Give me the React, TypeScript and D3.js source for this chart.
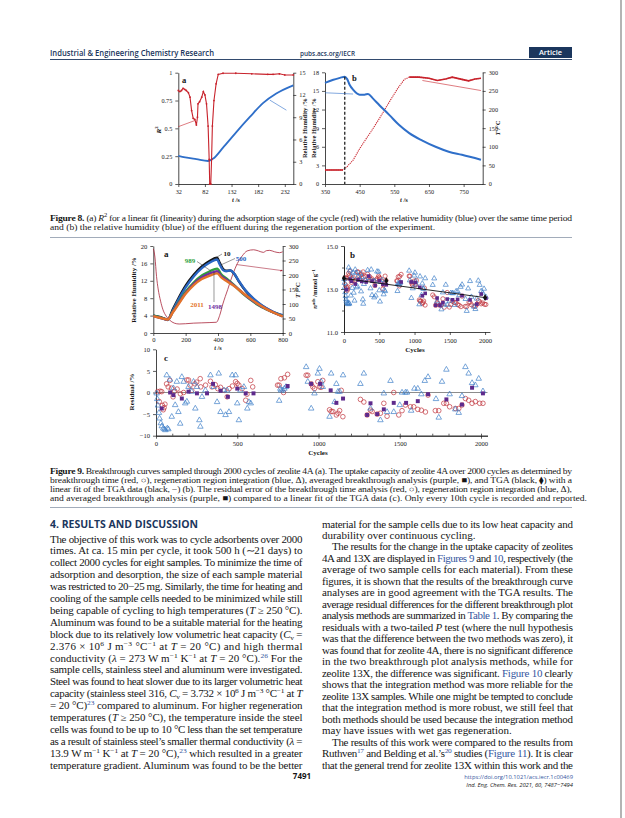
import { useEffect, useRef } from 'react';
import * as d3 from 'd3';

// ---------- Figure 8 data ----------
const fig8aR2: [number, number][] = [
  [32, 0.84], [35, 0.83], [38, 0.84], [41, 0.86], [44, 0.85], [47, 0.84], [51, 0.82], [54, 0.78],
  [57, 0.66], [60, 0.59], [63, 0.58], [66, 0.53], [68, 0.6], [69, 0.72], [72, 0.74], [76, 0.78],
  [79, 0.83], [82, 0.8], [85, 0.72], [88, 0.52], [90, 0.22], [91, 0.0], [93, 0.0], [94.5, 0.22],
  [96, 0.52], [99, 0.75], [103, 0.9], [107, 0.985], [116, 0.995], [140, 0.995], [170, 0.99],
  [200, 0.985], [210, 0.985], [222, 0.99], [232, 0.98], [248, 0.98]
];
const fig8aRH: [number, number][] = [
  [32, 3.8], [45, 3.6], [66, 3.35], [88, 3.1], [98, 3.45], [116, 4.9], [141, 7.0], [166, 9.0],
  [191, 10.9], [216, 12.2], [248, 13.3]
];
const fig8bRH: [number, number][] = [
  [350, 16.3], [374, 16.8], [393, 17.1], [407, 17.3], [414, 16.9], [421, 16.0], [431, 15.2],
  [450, 14.4], [464, 14.4], [474, 14.5], [488, 13.8], [507, 12.7], [536, 11.1], [564, 9.5],
  [593, 8.2], [631, 7.0], [669, 6.0], [707, 5.2], [745, 4.7], [800, 3.9]
];
const fig8bT: [number, number][] = [
  [350, 37.6], [402, 37.6], [412, 45], [431, 64], [450, 95], [469, 122], [483, 141], [507, 176],
  [536, 221], [560, 257], [579, 281], [593, 287], [621, 287], [650, 284], [674, 278], [698, 282],
  [717, 287], [745, 281], [764, 277], [783, 282], [800, 284]
];

// ---------- Figure 9a data (t /s, RH /%) ----------
const cycle10: [number, number][] = [
  [0, 4.0], [40, 3.7], [90, 3.1], [120, 5.4], [150, 7.6], [200, 10.9], [250, 13.4], [300, 15.3],
  [350, 16.6], [395, 17.3], [410, 16.2], [430, 14.8], [450, 14.3], [475, 14.4], [500, 13.6],
  [530, 11.8], [570, 9.7], [620, 7.8], [670, 6.3], [720, 5.2], [760, 4.5], [800, 4.0]
];
const cycle500: [number, number][] = [
  [0, 4.0], [40, 3.6], [90, 3.0], [120, 5.1], [150, 7.3], [200, 10.5], [250, 13.0], [300, 14.9],
  [350, 16.2], [395, 16.9], [410, 15.8], [430, 14.5], [450, 14.2], [475, 14.4], [495, 13.9],
  [530, 11.9], [570, 9.8], [620, 7.9], [670, 6.4], [720, 5.3], [760, 4.6], [800, 4.1]
];
const cycle989: [number, number][] = [
  [0, 4.0], [40, 3.6], [90, 3.1], [120, 4.9], [150, 6.7], [200, 9.5], [250, 11.6], [300, 13.2],
  [350, 14.2], [395, 14.8], [420, 13.5], [450, 12.6], [500, 11.0], [550, 9.2], [600, 7.7],
  [650, 6.4], [700, 5.4], [750, 4.6], [800, 3.9]
];
const cycle1498: [number, number][] = [
  [0, 3.9], [40, 3.5], [90, 3.1], [120, 4.8], [150, 6.5], [200, 9.2], [250, 11.3], [300, 12.8],
  [350, 13.7], [395, 14.2], [420, 13.1], [450, 12.3], [500, 10.9], [550, 9.3], [600, 7.8],
  [650, 6.5], [700, 5.5], [750, 4.6], [800, 3.8]
];
const cycle2011: [number, number][] = [
  [0, 3.9], [40, 3.5], [90, 3.1], [120, 4.7], [150, 6.3], [200, 9.0], [250, 11.0], [300, 12.4],
  [350, 13.2], [395, 13.7], [420, 12.8], [450, 12.0], [500, 10.8], [550, 9.3], [600, 7.9],
  [650, 6.6], [700, 5.5], [750, 4.6], [800, 3.8]
];
const fig9aT: [number, number][] = [
  [0, 290], [10, 262], [20, 195], [30, 152], [45, 110], [60, 80], [80, 58], [100, 45], [130, 34],
  [160, 31], [200, 32], [250, 34], [300, 35], [350, 36], [390, 37], [410, 60], [430, 100],
  [460, 150], [490, 200], [520, 240], [550, 266], [580, 283], [620, 287], [650, 283], [680, 278],
  [700, 284], [720, 285], [750, 280], [780, 277], [800, 280]
];

// ---------- Figure 9b/9c data (cycle, residual %) ----------
const redResidual: [number, number][] = [
  [10, 0.2], [20, -2.1], [25, 0.3], [35, 0.2], [40, -3], [45, -4], [50, -3.5], [55, -2.7], [65, 2],
  [75, 1.3], [85, 2.8], [95, 1.0], [105, -1], [115, 0.3], [130, 0.8], [150, -0.3], [170, 0],
  [190, 2.9], [200, 2.9], [210, 1.7], [220, 0.5], [240, 2], [250, 2.4], [272, 3.2], [275, 1.3],
  [305, 1.7], [335, 2.6], [345, 1.3], [365, 1.8], [380, 0.9], [397, 1.2], [420, 0.5], [438, -1],
  [450, 0.9], [470, 1.5], [490, 2.5], [500, 2.1], [510, 1.7], [530, 0.9], [552, -1.8], [560, -0.4],
  [583, 2.8], [595, 1.3], [748, 1.7], [758, 1.7], [769, 3.2], [785, 0], [790, 3.4], [810, 4.2],
  [924, 4], [934, 4], [955, 2], [965, 1.3], [975, 0.9], [996, 2.5], [1006, 1.3], [1016, 1.2],
  [1026, 2.8], [1068, -4], [1078, -4.4], [1088, -4.4], [1110, -5.2], [1120, -4.8], [1130, -4.2],
  [1140, 0.5], [1150, -5.6], [1258, -1.6], [1279, -2.2], [1299, -5.2], [1320, -4.1], [1330, -4.4],
  [1361, -5], [1381, -4.8], [1402, -2.5], [1422, -5.5], [1463, 0], [1494, -5.2], [1514, -4.2],
  [1535, -2.9], [1566, -3.3], [1586, -3.3], [1611, -3.9], [1633, -4.1], [1658, -4.5], [1674, -0.6],
  [1719, -4.2], [1740, -4.2], [1771, -2.5], [1787, -2.5], [1807, -3.3], [1842, -3.7], [1863, -3.7],
  [1883, -2.9], [1904, -1.4], [1924, -1.8], [1945, -2.5], [1965, -2.1], [1992, -2.5], [2012, -2.5]
];
const blueResidual: [number, number][] = [
  [4, -0.2], [8, -1.5], [12, -3], [18, -4.7], [22, -6], [30, -7.1], [36, -7.8], [45, -8.3],
  [52, -8.5], [58, -8.7], [66, 4], [70, -8.3], [76, -8.5], [86, 3], [97, -5.6], [107, 1],
  [118, -2.9], [128, 2.5], [138, -4.5], [149, -7.2], [159, 3.6], [170, 2.5], [180, -2.5],
  [190, -2.1], [200, 1.3], [220, 0.2], [231, 2.5], [242, -3.7], [252, 1.3], [267, -6.4],
  [273, -7.9], [283, -1], [304, 0.5], [335, 4], [355, 1.3], [376, -2.2], [386, 4.4], [397, -4.5],
  [418, 0.5], [428, -5.2], [438, 0.5], [449, -4.5], [469, 4], [490, 4], [500, -2.5], [510, -6.4],
  [520, 0.5], [541, 1.3], [562, -3.7], [572, -2.2], [583, -2.5], [758, -1.9], [765, 0.9],
  [769, 0.5], [779, 0.5], [790, 0.9], [800, 1.3], [924, 5.9], [934, 2.5], [955, -3.7], [975, -0.2],
  [996, 4.4], [1006, 5.5], [1016, 2.5], [1026, 1.3], [1068, -5.6], [1078, 4.4], [1099, -2.2],
  [1110, 2], [1120, 0.2], [1130, 0.2], [1151, 4], [1258, 2], [1279, 4.4], [1320, -3.7],
  [1381, -6.4], [1402, -0.2], [1422, -4.5], [1443, 2.7], [1463, -4.5], [1500, -2.9], [1514, 0],
  [1535, 0], [1545, 0], [1570, -4.2], [1590, 0.9], [1611, 0.9], [1633, -0.4], [1654, 2.7],
  [1674, 3.6], [1723, -1.5], [1740, -5.8], [1760, 2.5], [1787, 5.3], [1807, -0.4], [1842, -3.9],
  [1863, -4.7], [1883, -0.8], [1904, 5.9], [1924, 4.4], [1945, 2.2], [1965, 1.7], [1986, 3.2],
  [2012, 0.3]
];
const purpleResidual: [number, number][] = [
  [35, -3.7], [87, 0], [107, -0.6], [159, -1.4], [200, 0.2], [252, -0.2], [314, -0.2], [351, 2],
  [397, 0.4], [442, -1], [500, 0.9], [552, -0.2], [600, -0.2], [810, 1.5], [955, 2], [1010, 2],
  [1075, 0.5], [1110, -2.4], [1151, -1.4], [1299, -5.2], [1320, -2.5], [1361, -5], [1402, -3.9],
  [1463, -2.4], [1539, -2.4], [1611, -2], [1674, -0.4], [1787, -1.6], [1883, -2.8], [1945, 1.1],
  [2012, -0.2]
];
const tgaPoints: [number, number][] = [[0, 13.5], [600, 13.38], [2000, 12.6]];
const tgaFitEnds: [number, number][] = [[0, 13.49], [2000, 12.6]];

// ---------- text ----------
const fig8Caption = [
  '{b:Figure 8.} (a) {i:R}{sup:2} for a linear fit (linearity) during the adsorption stage of the cycle (red) with the relative humidity (blue) over the same time period',
  'and (b) the relative humidity (blue) of the effluent during the regeneration portion of the experiment.'
];
const fig9Caption = [
  '{b:Figure 9.} Breakthrough curves sampled through 2000 cycles of zeolite 4A (a). The uptake capacity of zeolite 4A over 2000 cycles as determined by',
  'breakthrough time (red, ○), regeneration region integration (blue, Δ), averaged breakthrough analysis (purple, ■), and TGA (black, ⧫) with a',
  'linear fit of the TGA data (black, −) (b). The residual error of the breakthrough time analysis (red, ○), regeneration region integration (blue, Δ),',
  'and averaged breakthrough analysis (purple, ■) compared to a linear fit of the TGA data (c). Only every 10th cycle is recorded and reported.'
];
const leftColumn = [
  'The objective of this work was to cycle adsorbents over 2000',
  'times. At ca. 15 min per cycle, it took 500 h (∼21 days) to',
  'collect 2000 cycles for eight samples. To minimize the time of',
  'adsorption and desorption, the size of each sample material',
  'was restricted to 20−25 mg. Similarly, the time for heating and',
  'cooling of the sample cells needed to be minimized while still',
  'being capable of cycling to high temperatures ({i:T} ≥ 250 °C).',
  'Aluminum was found to be a suitable material for the heating',
  'block due to its relatively low volumetric heat capacity ({i:C}{sub:v} =',
  '2.376 × 10{sup:6} J m{sup:−3} °C{sup:−1} at {i:T} = 20 °C) and high thermal',
  'conductivity ({i:λ} = 273 W m{sup:−1} K{sup:−1} at {i:T} = 20 °C).{lsup:26} For the',
  'sample cells, stainless steel and aluminum were investigated.',
  'Steel was found to heat slower due to its larger volumetric heat',
  'capacity (stainless steel 316, {i:C}{sub:v} = 3.732 × 10{sup:6} J m{sup:−3} °C{sup:−1} at {i:T}',
  '= 20 °C){lsup:23} compared to aluminum. For higher regeneration',
  'temperatures ({i:T} ≥ 250 °C), the temperature inside the steel',
  'cells was found to be up to 10 °C less than the set temperature',
  'as a result of stainless steel’s smaller thermal conductivity ({i:λ} =',
  '13.9 W m{sup:−1} K{sup:−1} at {i:T} = 20 °C),{lsup:23} which resulted in a greater',
  'temperature gradient. Aluminum was found to be the better'
];
const rightColumn = [
  'material for the sample cells due to its low heat capacity and',
  'durability over continuous cycling.',
  'The results for the change in the uptake capacity of zeolites',
  '4A and 13X are displayed in {l:Figures 9} and {l:10}, respectively (the',
  'average of two sample cells for each material). From these',
  'figures, it is shown that the results of the breakthrough curve',
  'analyses are in good agreement with the TGA results. The',
  'average residual differences for the different breakthrough plot',
  'analysis methods are summarized in {l:Table 1}. By comparing the',
  'residuals with a two-tailed {i:P} test (where the null hypothesis',
  'was that the difference between the two methods was zero), it',
  'was found that for zeolite 4A, there is no significant difference',
  'in the two breakthrough plot analysis methods, while for',
  'zeolite 13X, the difference was significant. {l:Figure 10} clearly',
  'shows that the integration method was more reliable for the',
  'zeolite 13X samples. While one might be tempted to conclude',
  'that the integration method is more robust, we still feel that',
  'both methods should be used because the integration method',
  'may have issues with wet gas regeneration.',
  'The results of this work were compared to the results from',
  'Ruthven{lsup:17} and Belding et al.’s{lsup:20} studies ({l:Figure 11}). It is clear',
  'that the general trend for zeolite 13X within this work and the'
];
const rightIndented = [2, 19];
const rightRagged = [1, 18];

const NAVY = '#1b365d';
const LINK = '#3556a0';
const SERIF = '"Liberation Serif", "Times New Roman", serif';
const SANS = '"Open Sans", "Liberation Sans", sans-serif';
const RED = '#c8232c';
const BLUE8 = '#2f6fc9';

type Sel = d3.Selection<any, unknown, null, undefined>;

interface TextOpts {
  x?: number; y?: number; size: number; family?: string; weight?: string | number;
  fill?: string; anchor?: string; width?: number; transform?: string; style?: string;
  sx?: number; squeeze?: boolean;
}

function richText(parent: Sel, str: string, o: TextOpts) {
  const sx = o.sx ?? 1;
  const t = parent.append('text')
    .attr('font-family', o.family ?? SERIF).attr('font-size', o.size)
    .attr('font-weight', o.weight ?? 'normal')
    .attr('font-style', o.style ?? 'normal')
    .attr('fill', o.fill ?? '#161616')
    .attr('text-anchor', o.anchor ?? 'start');
  if (o.transform) {
    t.attr('x', 0).attr('y', 0).attr('transform', o.transform);
  } else if (sx !== 1) {
    t.attr('x', 0).attr('y', 0).attr('transform', `translate(${o.x ?? 0},${o.y ?? 0}) scale(${sx},1)`);
  } else {
    t.attr('x', o.x ?? 0).attr('y', o.y ?? 0);
  }
  if (o.width) {
    t.attr('textLength', o.width / sx).attr('lengthAdjust', o.squeeze ? 'spacingAndGlyphs' : 'spacing');
  }
  const re = /\{(\w+):([^}]*)\}/g;
  let last = 0;
  let shift = 0;
  const add = (txt: string, kind: string) => {
    const sp = t.append('tspan').text(txt);
    let target = 0;
    if (kind === 'sup' || kind === 'lsup') { target = -o.size * 0.38; sp.attr('font-size', o.size * 0.68); }
    if (kind === 'sub') { target = o.size * 0.22; sp.attr('font-size', o.size * 0.68); }
    if (target !== shift) { sp.attr('dy', target - shift); shift = target; }
    if (kind === 'i') sp.attr('font-style', 'italic');
    if (kind === 'b') sp.attr('font-weight', 'bold');
    if (kind === 'l' || kind === 'lsup') sp.attr('fill', LINK);
  };
  let m: RegExpExecArray | null;
  while ((m = re.exec(str))) {
    if (m.index > last) add(str.slice(last, m.index), '');
    add(m[2], m[1]);
    last = re.lastIndex;
  }
  if (last < str.length) add(str.slice(last), '');
  return t;
}

function styleAxis(g: Sel, size: number) {
  g.attr('font-family', SERIF).attr('font-size', size);
  g.select('.domain').attr('stroke', '#1a1a1a').attr('stroke-width', 0.8);
  g.selectAll('.tick line').attr('stroke', '#1a1a1a').attr('stroke-width', 0.7);
  g.selectAll('.tick text').attr('fill', '#1a1a1a');
}

const CAP = { size: 8.4, sx: 1.14 };
const BODY = { size: 9.8, sx: 1.12 };

function drawPage(svg: Sel) {
  svg.append('rect').attr('width', 625).attr('height', 818).attr('fill', '#fff');
  svg.append('rect').attr('x', 620).attr('width', 2).attr('height', 818).attr('fill', '#b4b4b4');

  richText(svg, 'Industrial & Engineering Chemistry Research', {
    x: 50, y: 56, size: 8.8, family: SANS, weight: 600, fill: NAVY, width: 164, squeeze: true
  });
  richText(svg, 'pubs.acs.org/IECR', { x: 300, y: 56, size: 6.8, family: SANS, weight: 600, fill: NAVY, width: 55, squeeze: true });
  svg.append('rect').attr('x', 529).attr('y', 47).attr('width', 43).attr('height', 11).attr('fill', NAVY);
  richText(svg, 'Article', { x: 550.5, y: 55.3, size: 7.4, family: SANS, weight: 600, fill: '#fff', anchor: 'middle' });
  svg.append('line').attr('x1', 50).attr('x2', 572).attr('y1', 59.5).attr('y2', 59.5)
    .attr('stroke', NAVY).attr('stroke-width', 0.9);

  fig8Caption.forEach((line, i) => {
    richText(svg, line, { x: 50, y: 220.5 + i * 9.8, ...CAP, width: i === 0 ? 522 : undefined });
  });
  svg.append('line').attr('x1', 50).attr('x2', 572).attr('y1', 237.5).attr('y2', 237.5)
    .attr('stroke', '#8a97a8').attr('stroke-width', 0.8);

  fig9Caption.forEach((line, i) => {
    richText(svg, line, { x: 50, y: 473.5 + i * 9, ...CAP, width: i < 3 ? 522 : undefined });
  });
  svg.append('line').attr('x1', 50).attr('x2', 572).attr('y1', 507.5).attr('y2', 507.5)
    .attr('stroke', '#8a97a8').attr('stroke-width', 0.8);

  richText(svg, '4. RESULTS AND DISCUSSION', { x: 50, y: 527.5, size: 10.4, family: SANS, weight: 700, fill: NAVY, width: 148, squeeze: true });

  leftColumn.forEach((line, i) => {
    richText(svg, line, { x: 50, y: 542.5 + i * 11.9, ...BODY, width: 252.5 });
  });
  rightColumn.forEach((line, i) => {
    const indent = rightIndented.includes(i) ? 10 : 0;
    const ragged = rightRagged.includes(i);
    richText(svg, line, { x: 322 + indent, y: 527.5 + i * 11.48, ...BODY, width: ragged ? undefined : 251 - indent });
  });

  richText(svg, '7491', { x: 302, y: 779, size: 8, family: SANS, weight: 700, anchor: 'middle' });
  richText(svg, 'https://doi.org/10.1021/acs.iecr.1c00469', { x: 573, y: 779, size: 5.8, family: SANS, fill: LINK, anchor: 'end' });
  richText(svg, 'Ind. Eng. Chem. Res. 2021, 60, 7487−7494', { x: 573, y: 787, size: 5.8, family: SANS, style: 'italic', anchor: 'end' });
}

function addArrowMarker(svg: Sel, id: string, color: string) {
  svg.select('defs').append('marker')
    .attr('id', id).attr('viewBox', '0 0 6 6').attr('refX', 5).attr('refY', 3)
    .attr('markerWidth', 4).attr('markerHeight', 4).attr('orient', 'auto')
    .append('path').attr('d', 'M0,0 L6,3 L0,6 Z').attr('fill', color);
}

function drawFigure8(svg: Sel) {
  const g = svg.append('g');
  // ---- (a) ----
  const xa = d3.scaleLinear().domain([32, 248]).range([178.3, 293.3]);
  const yR2 = d3.scaleLinear().domain([0, 1]).range([184, 72.7]);
  const yRHa = d3.scaleLinear().domain([0, 15]).range([184, 72.7]);

  g.append('g').attr('transform', 'translate(0,184)')
    .call(d3.axisBottom(xa).tickValues([32, 82, 132, 182, 232]).tickSize(3).tickSizeOuter(0))
    .call((a: Sel) => styleAxis(a, 6.2));
  g.append('g').attr('transform', 'translate(178.3,0)')
    .call(d3.axisLeft(yR2).tickValues([0, 0.25, 0.5, 0.75, 1]).tickFormat((d) => String(d)).tickSize(3).tickSizeOuter(0))
    .call((a: Sel) => styleAxis(a, 6.2));
  g.append('g').attr('transform', 'translate(293.3,0)')
    .call(d3.axisRight(yRHa).tickValues([0, 3, 6, 9, 12, 15]).tickSize(3).tickSizeOuter(0))
    .call((a: Sel) => styleAxis(a, 6.2));

  const lineR2 = d3.line<[number, number]>().x((d) => xa(d[0])).y((d) => yR2(d[1]));
  const lineRHa = d3.line<[number, number]>().x((d) => xa(d[0])).y((d) => yRHa(d[1])).curve(d3.curveMonotoneX);
  g.append('path').attr('d', lineRHa(fig8aRH)).attr('fill', 'none').attr('stroke', BLUE8).attr('stroke-width', 1.8);
  g.append('path').attr('d', lineR2(fig8aR2)).attr('fill', 'none').attr('stroke', RED).attr('stroke-width', 1.1);
  g.selectAll('.r2dot').data(fig8aR2).enter().append('circle')
    .attr('cx', (d) => xa(d[0])).attr('cy', (d) => yR2(d[1])).attr('r', 0.9).attr('fill', RED);

  g.append('line').attr('x1', xa(32)).attr('y1', yR2(0.515)).attr('x2', xa(63)).attr('y2', yR2(0.57))
    .attr('stroke', RED).attr('stroke-width', 0.6);
  g.append('line').attr('x1', xa(204)).attr('y1', yRHa(11.3)).attr('x2', xa(235)).attr('y2', yRHa(9.95))
    .attr('stroke', BLUE8).attr('stroke-width', 0.6);

  richText(g, 'a', { x: 182, y: 83, size: 8.5, weight: 700 });
  richText(g, '{i:R}{sup:2}', { transform: 'translate(161,130) rotate(-90)', size: 7, weight: 700, anchor: 'middle' });
  richText(g, '{i:t} /s', { x: 236, y: 202, size: 6.6, weight: 700, anchor: 'middle' });
  richText(g, 'Relative Humidity /%', { transform: 'translate(307,128) rotate(-90)', size: 6.4, weight: 700, anchor: 'middle' });

  // ---- (b) ----
  const xb = d3.scaleLinear().domain([350, 805]).range([325, 482.7]);
  const yRHb = d3.scaleLinear().domain([0, 18]).range([184, 72.3]);
  const yTb = d3.scaleLinear().domain([0, 300]).range([184, 72.3]);

  g.append('g').attr('transform', 'translate(0,184)')
    .call(d3.axisBottom(xb).tickValues([350, 450, 550, 650, 750]).tickSize(3).tickSizeOuter(0))
    .call((a: Sel) => styleAxis(a, 6.2));
  g.append('g').attr('transform', 'translate(325,0)')
    .call(d3.axisLeft(yRHb).tickValues([0, 3, 6, 9, 12, 15, 18]).tickSize(3).tickSizeOuter(0))
    .call((a: Sel) => styleAxis(a, 6.2));
  g.append('g').attr('transform', 'translate(482.7,0)')
    .call(d3.axisRight(yTb).tickValues([0, 50, 100, 150, 200, 250, 300]).tickSize(3).tickSizeOuter(0))
    .call((a: Sel) => styleAxis(a, 6.2));

  const lineRHb = d3.line<[number, number]>().x((d) => xb(d[0])).y((d) => yRHb(d[1])).curve(d3.curveMonotoneX);
  const lineTb = d3.line<[number, number]>().x((d) => xb(d[0])).y((d) => yTb(d[1]));
  // the heating ramp is sparse (dotted), the flat holds are dense (solid)
  g.append('path').attr('d', lineTb(fig8bT)).attr('fill', 'none').attr('stroke', RED).attr('stroke-width', 1.1)
    .attr('stroke-dasharray', '1.2 0.9');
  g.append('path').attr('d', lineTb(fig8bT.filter((d) => d[0] <= 402))).attr('fill', 'none').attr('stroke', RED).attr('stroke-width', 1.6);
  g.append('path').attr('d', lineTb(fig8bT.filter((d) => d[0] >= 593))).attr('fill', 'none').attr('stroke', RED).attr('stroke-width', 1.6);
  g.append('path').attr('d', lineRHb(fig8bRH)).attr('fill', 'none').attr('stroke', BLUE8).attr('stroke-width', 2);
  g.append('line').attr('x1', xb(407)).attr('x2', xb(407)).attr('y1', yRHb(17.3)).attr('y2', yRHb(0))
    .attr('stroke', '#222').attr('stroke-width', 1.3).attr('stroke-dasharray', '3 2');
  g.append('line').attr('x1', xb(350)).attr('y1', yRHb(14.7)).attr('x2', xb(431)).attr('y2', yRHb(14.5))
    .attr('stroke', BLUE8).attr('stroke-width', 0.6);
  g.append('line').attr('x1', xb(631)).attr('y1', yTb(278)).attr('x2', xb(800)).attr('y2', yTb(251))
    .attr('stroke', RED).attr('stroke-width', 0.6);

  richText(g, 'b', { x: 352, y: 81, size: 8.5, weight: 700 });
  richText(g, '{i:t} /s', { x: 404, y: 202, size: 6.6, weight: 700, anchor: 'middle' });
  richText(g, 'Relative Humidity /%', { transform: 'translate(316,128) rotate(-90)', size: 6.4, weight: 700, anchor: 'middle' });
  richText(g, '{i:T} /°C', { transform: 'translate(500,128) rotate(-90)', size: 6.6, weight: 700, anchor: 'middle' });
}

function drawFigure9(svg: Sel) {
  const g = svg.append('g');
  // ---- (a) ----
  const x = d3.scaleLinear().domain([0, 800]).range([153.3, 282.7]);
  const yRH = d3.scaleLinear().domain([0, 20]).range([333, 246]);
  const yT = d3.scaleLinear().domain([0, 300]).range([333, 246]);

  g.append('g').attr('transform', 'translate(0,333)')
    .call(d3.axisBottom(x).tickValues([0, 200, 400, 600, 800]).tickSize(3).tickPadding(1.5).tickSizeOuter(0))
    .call((a: Sel) => styleAxis(a, 6.6));
  g.append('g').attr('transform', 'translate(153.3,0)')
    .call(d3.axisLeft(yRH).tickValues([0, 4, 8, 12, 16, 20]).tickSize(3).tickSizeOuter(0))
    .call((a: Sel) => styleAxis(a, 6.6));
  g.append('g').attr('transform', 'translate(282.7,0)')
    .call(d3.axisRight(yT).tickValues([0, 50, 100, 150, 200, 250, 300]).tickSize(3).tickSizeOuter(0))
    .call((a: Sel) => styleAxis(a, 6.6));

  const lineRH = d3.line<[number, number]>().x((d) => x(d[0])).y((d) => yRH(d[1])).curve(d3.curveMonotoneX);
  const lineT = d3.line<[number, number]>().x((d) => x(d[0])).y((d) => yT(d[1])).curve(d3.curveMonotoneX);
  g.append('path').attr('d', lineT(fig9aT)).attr('fill', 'none').attr('stroke', '#a8243a').attr('stroke-width', 0.8);

  const curves: [[number, number][], string][] = [
    [cycle10, '#141414'], [cycle500, '#2a67c4'], [cycle989, '#2fa13c'], [cycle1498, '#7030a0'], [cycle2011, '#e3732a']
  ];
  curves.forEach(([data, color]) => {
    g.append('path').attr('d', lineRH(data)).attr('fill', 'none').attr('stroke', color).attr('stroke-width', 2.4);
  });

  g.append('line').attr('x1', x(515)).attr('y1', yT(236)).attr('x2', x(798)).attr('y2', yT(215))
    .attr('stroke', '#a8243a').attr('stroke-width', 0.6).attr('marker-end', 'url(#arrowT)');

  richText(g, 'a', { x: 164, y: 257, size: 9, weight: 700 });
  richText(g, '10', { x: 227, y: 255.5, size: 7, weight: 700, fill: '#141414', anchor: 'middle' });
  richText(g, '500', { x: 241, y: 260.5, size: 7, weight: 700, fill: '#2a67c4', anchor: 'middle' });
  richText(g, '989', { x: 190, y: 263, size: 7, weight: 700, fill: '#2fa13c', anchor: 'middle' });
  richText(g, '2011', { x: 197, y: 306.5, size: 7, weight: 700, fill: '#e3732a', anchor: 'middle' });
  richText(g, '1498', { x: 215, y: 308.5, size: 7, weight: 700, fill: '#7030a0', anchor: 'middle' });
  const leader = (x1: number, y1: number, x2: number, y2: number) =>
    g.append('line').attr('x1', x1).attr('y1', y1).attr('x2', x2).attr('y2', y2).attr('stroke', '#333').attr('stroke-width', 0.5);
  leader(222, 254, x(370), yRH(16.9));
  leader(235, 258.5, x(415), yRH(15.6));
  leader(197, 261.5, x(355), yRH(14.3));
  leader(214, 302, x(375), yRH(14.0));

  richText(g, 'Relative Humidity /%', { transform: 'translate(136,290) rotate(-90)', size: 7, weight: 700, anchor: 'middle' });
  richText(g, '{i:t} /s', { x: 218, y: 349.8, size: 6.2, weight: 700, anchor: 'middle' });
  richText(g, '{i:T} /°C', { transform: 'translate(300,290) rotate(-90)', size: 7, weight: 700, anchor: 'middle' });

  // ---- (b) ----
  const xb = d3.scaleLinear().domain([0, 2070]).range([344, 490]);
  const yb = d3.scaleLinear().domain([11, 15]).range([332, 246]);
  const fit = d3.scaleLinear().domain([tgaFitEnds[0][0], tgaFitEnds[1][0]]).range([tgaFitEnds[0][1], tgaFitEnds[1][1]]);
  const toUptake = (d: [number, number]): [number, number] => [d[0], fit(d[0]) * (1 + d[1] / 100)];

  g.append('g').attr('transform', 'translate(0,332)')
    .call(d3.axisBottom(xb).tickValues([0, 500, 1000, 1500, 2000]).tickFormat(d3.format('d')).tickSize(3).tickSizeOuter(0))
    .call((a: Sel) => styleAxis(a, 6.6));
  g.append('g').attr('transform', 'translate(344,0)')
    .call(d3.axisLeft(yb).tickValues([11, 13, 15]).tickFormat(d3.format('.1f')).tickSize(3).tickSizeOuter(0))
    .call((a: Sel) => styleAxis(a, 6.6));
  g.append('g').attr('transform', 'translate(344,0)')
    .call(d3.axisLeft(yb).tickValues([12, 14]).tickFormat(() => '').tickSize(2).tickSizeOuter(0))
    .call((a: Sel) => styleAxis(a, 6.6));

  drawScatter(g, redResidual.map(toUptake), purpleResidual.map(toUptake), blueResidual.map(toUptake), xb, yb, 1);

  g.append('path')
    .attr('d', d3.line<[number, number]>().x((d) => xb(d[0])).y((d) => yb(d[1]))(tgaFitEnds))
    .attr('stroke', '#111').attr('stroke-width', 0.9).attr('fill', 'none');
  g.selectAll('.tga').data(tgaPoints).enter().append('path')
    .attr('transform', (d) => `translate(${xb(d[0])},${yb(d[1])})`)
    .attr('d', d3.symbol(d3.symbolDiamond, 14)()).attr('fill', '#111');

  richText(g, 'b', { x: 350, y: 258, size: 9, weight: 700 });
  richText(g, '{i:n}{sup:ads} /mmol g{sup:−1}', { transform: 'translate(317,289) rotate(-90)', size: 6.6, weight: 700, anchor: 'middle' });
  richText(g, 'Cycles', { x: 415, y: 352, size: 7, weight: 700, anchor: 'middle' });

  // ---- (c) ----
  const xc = d3.scaleLinear().domain([0, 2040]).range([156, 487.5]);
  const yc = d3.scaleLinear().domain([-10, 10]).range([435.7, 349.3]);

  g.append('line').attr('x1', xc(0)).attr('x2', xc(2040)).attr('y1', yc(0)).attr('y2', yc(0))
    .attr('stroke', '#8c8c8c').attr('stroke-width', 1.2);
  g.append('g').attr('transform', 'translate(0,435.7)')
    .call(d3.axisBottom(xc).tickValues([0, 500, 1000, 1500, 2000]).tickFormat(d3.format('d')).tickSize(3).tickSizeOuter(0))
    .call((a: Sel) => styleAxis(a, 6.6));
  g.append('g').attr('transform', 'translate(0,435.7)')
    .call(d3.axisTop(xc).tickValues(d3.range(100, 2040, 100)).tickFormat(() => '').tickSize(2).tickSizeOuter(0))
    .call((a: Sel) => styleAxis(a, 6.6));
  g.append('g').attr('transform', 'translate(156,0)')
    .call(d3.axisLeft(yc).tickValues([-10, -5, 0, 5, 10]).tickSize(3).tickSizeOuter(0))
    .call((a: Sel) => styleAxis(a, 6.6));

  drawScatter(g, redResidual, purpleResidual, blueResidual, xc, yc, 1.1);

  richText(g, 'c', { x: 164, y: 361, size: 9, weight: 700 });
  richText(g, 'Residual /%', { transform: 'translate(134,392) rotate(-90)', size: 7, weight: 700, anchor: 'middle' });
  richText(g, 'Cycles', { x: 318, y: 455, size: 7, weight: 700, anchor: 'middle' });
}

function drawScatter(
  g: Sel,
  red: [number, number][],
  purple: [number, number][],
  blue: [number, number][],
  xs: d3.ScaleLinear<number, number>,
  ys: d3.ScaleLinear<number, number>,
  k: number
) {
  const s = g.append('g');
  s.selectAll('.red').data(red).enter().append('circle')
    .attr('cx', (d) => xs(d[0])).attr('cy', (d) => ys(d[1])).attr('r', 2.1 * k)
    .attr('fill', 'none').attr('stroke', '#c0343c').attr('stroke-width', 0.7);
  s.selectAll('.blue').data(blue).enter().append('path')
    .attr('transform', (d) => `translate(${xs(d[0])},${ys(d[1])})`)
    .attr('d', d3.symbol(d3.symbolTriangle, 11 * k * k)())
    .attr('fill', 'none').attr('stroke', '#3f7fc8').attr('stroke-width', 0.7);
  s.selectAll('.purple').data(purple).enter().append('rect')
    .attr('x', (d) => xs(d[0]) - 1.8 * k).attr('y', (d) => ys(d[1]) - 1.8 * k)
    .attr('width', 3.6 * k).attr('height', 3.6 * k).attr('fill', '#5e2a8c');
}

export default function App() {
  const ref = useRef<SVGSVGElement>(null);
  useEffect(() => {
    const svg = d3.select(ref.current) as Sel;
    svg.selectAll('*').remove();
    svg.append('defs');
    addArrowMarker(svg, 'arrowT', '#a8243a');
    drawPage(svg);
    drawFigure8(svg);
    drawFigure9(svg);
  }, []);
  return (
    <svg ref={ref} width={625} height={818} style={{ position: 'absolute', left: 0, top: 0, background: '#fff' }} />
  );
}
